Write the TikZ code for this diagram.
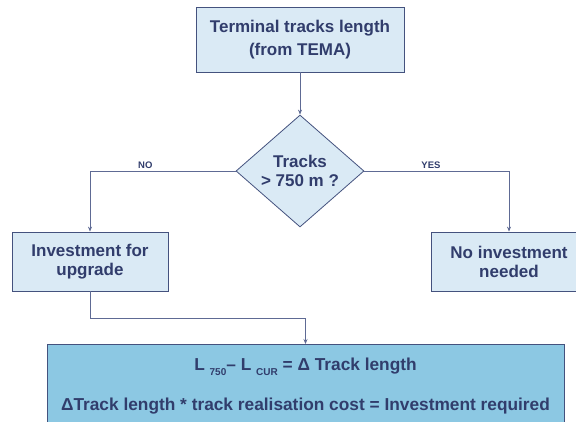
\documentclass[tikz,border=0pt]{standalone}
\usepackage{fontspec}
\setmainfont{Liberation Sans}
\usetikzlibrary{shapes.geometric, arrows.meta}
\definecolor{navy}{HTML}{313D6C}
\definecolor{boxline}{HTML}{44527E}
\definecolor{paleblue}{HTML}{DAEAF5}
\definecolor{midblue}{HTML}{8CC8E3}
\definecolor{wirecol}{HTML}{5E6A94}
\newcommand{\lowidx}[1]{{\fontsize{10}{10}\selectfont\raisebox{-4.5pt}{#1}}}

\begin{document}
\begin{tikzpicture}[x=1pt, y=-1pt,
	box/.style={rectangle, draw=boxline, fill=paleblue, text=navy, line width=0.8pt,
		font=\fontsize{17}{19}\selectfont\bfseries, align=center, inner sep=0pt},
	decision/.style={diamond, draw=boxline, fill=paleblue, text=navy, line width=0.8pt,
		font=\fontsize{17}{19}\selectfont\bfseries, align=center, inner sep=0pt},
	wire/.style={draw=wirecol, line width=0.7pt, -{Stealth[length=5pt, width=4pt]}},
	answer/.style={text=navy, font=\fontsize{9.5}{11}\selectfont\bfseries, inner sep=2.5pt}]
	% Page size, the last boxes run over the edge
	\useasboundingbox (0,0) rectangle (576,421);
	\clip (0,0) rectangle (576,421);

	% Define the nodes with specific positions
	\node[box, minimum width=208pt, minimum height=65pt, font=\fontsize{17}{23}\selectfont\bfseries] (source) at (300, 39.5) {Terminal tracks length\\(from TEMA)};
	\node[decision, minimum width=128pt, minimum height=112pt] (check) at (300, 171) {Tracks\\> 750 m ?};
	\node[box, minimum width=156pt, minimum height=59pt] (upgrade) at (90, 261.5) {Investment for\\upgrade};
	\node[box, minimum width=156pt, minimum height=59pt] (noinvest) at (509, 261.5) {No investment\\needed};
	\node[box, fill=midblue, anchor=north, minimum width=517pt, inner ysep=14pt,
		font=\fontsize{17.3}{40}\selectfont\bfseries] (cost) at (305.5, 344)
		{L \lowidx{750}– L \lowidx{CUR} = Δ Track length\\ΔTrack length * track realisation cost = Investment required};

	% Draw the connectors between nodes with labels
	\draw[wire] (source) -- (check);
	\draw[wire] (check.west) -| node[answer, above, pos=0.31] {NO} (upgrade.north);
	\draw[wire] (check.east) -| node[answer, above, pos=0.23] {YES} (noinvest.north);
	\draw[wire] (upgrade.south) -- ++(0,27) -| (cost.north);
\end{tikzpicture}
\end{document}
